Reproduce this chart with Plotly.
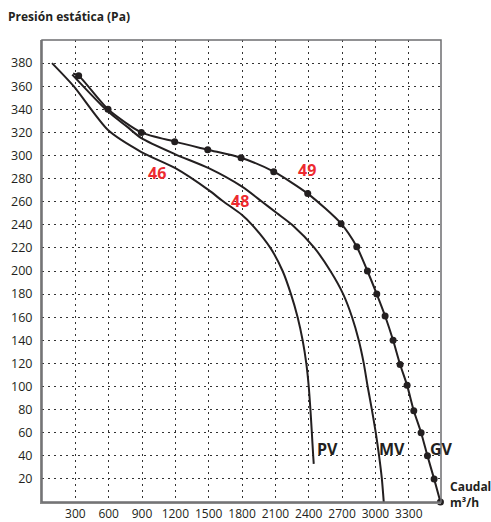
import plotly.graph_objects as go

# ---- data (flow m3/h, static pressure Pa) ----
pv_flow = [90, 285, 594, 894, 1200, 1500, 1620, 1800, 1890, 2055, 2165, 2240, 2300, 2345, 2378, 2400, 2415, 2428, 2440, 2445]
pv_pressure = [380, 360, 322, 303, 289, 270, 261, 248.5, 240, 220, 200, 180, 160, 140, 120, 100, 80, 60, 40, 33]

mv_flow = [272, 594, 765, 894, 1200, 1500, 1800, 1980, 2115, 2250, 2451, 2595, 2710, 2790, 2850, 2895, 2930, 2968, 3003, 3033, 3058, 3075]
mv_pressure = [370, 338, 325, 315, 301, 289, 273, 260, 250, 240, 220, 200, 180, 160, 140, 120, 100, 80, 60, 40, 20, 0]

gv_start_flow = [280]
gv_start_pressure = [371]
gv_flow = [330, 594, 894, 1194, 1491, 1791, 2085, 2391, 2691, 2832, 2928, 3012, 3087, 3159, 3222, 3285, 3345, 3411, 3468, 3528, 3585]
gv_pressure = [369, 340, 320, 312, 305, 298, 286, 267, 241, 221, 200, 180, 161, 140, 119, 101, 79, 60, 40, 20, 0]

x_ticks = [300, 600, 900, 1200, 1500, 1800, 2100, 2400, 2700, 3000, 3300]
y_ticks = list(range(20, 400, 20))
X_MAX = 3590
Y_MAX = 400

curve_names = ["PV", "MV", "GV"]
curve_label_x = [2568, 3153, 3594]
curve_label_y = [46, 46, 46]
model_names = ["46", "48", "49"]
model_label_x = [1031, 1785, 2381]
model_label_y = [284.5, 261, 287.8]

INK = "#231f20"
RED = "#ed2a2f"
FONT = "Open Sans"

fig = go.Figure()
line_style = dict(color=INK, width=2, shape="spline", smoothing=0.7)
fig.add_trace(go.Scatter(x=pv_flow, y=pv_pressure, mode="lines", line=line_style, hoverinfo="skip"))
fig.add_trace(go.Scatter(x=mv_flow, y=mv_pressure, mode="lines", line=line_style, hoverinfo="skip"))
fig.add_trace(go.Scatter(x=gv_start_flow + gv_flow, y=gv_start_pressure + gv_pressure, mode="lines",
                         line=line_style, hoverinfo="skip"))
fig.add_trace(go.Scatter(x=gv_flow, y=gv_pressure, mode="markers",
                         marker=dict(color=INK, size=7), hoverinfo="skip", cliponaxis=False))

annotations = []
for t, x, y in zip(curve_names, curve_label_x, curve_label_y):
    annotations.append(dict(x=x / X_MAX, y=y / Y_MAX, xref="paper", yref="paper",
                            xanchor="center", yanchor="middle", text=t, showarrow=False,
                            font=dict(family=FONT, size=16, color=INK, weight="bold")))
for t, x, y in zip(model_names, model_label_x, model_label_y):
    annotations.append(dict(x=x, y=y, xref="x", yref="y", xanchor="center", yanchor="middle",
                            text=t, showarrow=False,
                            font=dict(family=FONT, size=16, color=RED, weight="bold")))
annotations.append(dict(x=(448 - 42) / 399, y=(502 - 494) / 462, xref="paper", yref="paper",
                        xanchor="left", yanchor="middle", align="left",
                        text="Caudal<br>m³/h", showarrow=False,
                        font=dict(family=FONT, size=12, color=INK, weight="bold")))

fig.update_layout(
    width=491, height=522,
    margin=dict(l=42, r=50, t=40, b=20, autoexpand=False),
    paper_bgcolor="white", plot_bgcolor="white",
    showlegend=False,
    font=dict(family=FONT, size=12, color=INK),
    title=dict(text="<b>Presión estática (Pa)</b>", xref="container", yref="container",
               x=8 / 491, xanchor="left", y=1 - 17 / 522, yanchor="middle",
               font=dict(family=FONT, size=12, color=INK)),
    annotations=annotations,
    shapes=[dict(type="rect", xref="paper", yref="paper", x0=0, x1=1, y0=0, y1=1,
                 line=dict(color="#6d6e70", width=1.5), layer="above")],
)
fig.update_xaxes(range=[0, X_MAX], tickvals=x_ticks, ticktext=[str(v) for v in x_ticks],
                 automargin=False,
                 showgrid=True, gridcolor="#333333", gridwidth=1, griddash="2px,4px",
                 zeroline=False, showline=True, linecolor="#8a8a8a", linewidth=2,
                 ticks="",
                 tickfont=dict(family=FONT, size=12, color=INK))
fig.update_yaxes(range=[0, Y_MAX], tickvals=y_ticks, ticktext=[str(v) for v in y_ticks],
                 automargin=False,
                 showgrid=True, gridcolor="#333333", gridwidth=1, griddash="2px,4px",
                 zeroline=False, showline=True, linecolor="#8a8a8a", linewidth=2,
                 ticks="outside", ticklen=5, tickcolor="rgba(0,0,0,0)",
                 tickfont=dict(family=FONT, size=12.5, color=INK))

fig.write_html("out.html")
